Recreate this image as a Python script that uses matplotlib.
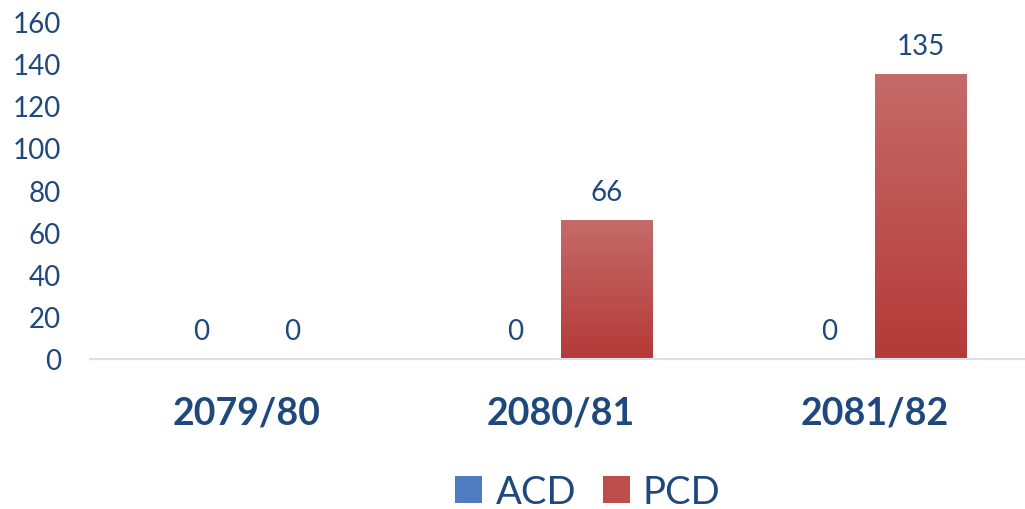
import matplotlib
matplotlib.use("Agg")
import matplotlib.pyplot as plt
import numpy as np
from matplotlib.patches import Patch
from matplotlib.colors import LinearSegmentedColormap

categories = ["2079/80", "2080/81", "2081/82"]
series_names = ["ACD", "PCD"]
acd = [0, 0, 0]
pcd = [0, 66, 135]
yticks = [0, 20, 40, 60, 80, 100, 120, 140, 160]

text_color = "#1F497D"
red_top, red_bot = "#C56B69", "#B43A38"
blue_top, blue_bot = "#6F94CD", "#3A6CB5"

plt.rcParams['font.family'] = ['Lato', 'DejaVu Sans']

fig = plt.figure(figsize=(10.25, 5.1), dpi=100)
ax = fig.add_axes([90/1025, 150/510, 942/1025, 338/510])

x = np.arange(len(categories))
w = 0.29
bars_a = ax.bar(x - w/2, acd, w, color=blue_bot, label=series_names[0])
bars_p = ax.bar(x + w/2, pcd, w, color=red_bot, label=series_names[1])

def gradient_fill(bars, top, bot):
    cmap = LinearSegmentedColormap.from_list("g", [bot, top])
    for b in bars:
        bx, by = b.get_x(), b.get_y()
        bw, bh = b.get_width(), b.get_height()
        if bh <= 0:
            continue
        grad = np.linspace(0, 1, 256).reshape(-1, 1)
        im = ax.imshow(grad, cmap=cmap, aspect='auto', origin='lower',
                       extent=[bx, bx + bw, by, by + bh], zorder=b.get_zorder() + 0.1)
        im.set_clip_path(b)

gradient_fill(bars_a, blue_top, blue_bot)
gradient_fill(bars_p, red_top, red_bot)
ax.set_xlim(-0.5, 2.5)
ax.set_ylim(0, 160)

for bars in (bars_a, bars_p):
    for b in bars:
        ax.annotate(f"{int(b.get_height())}",
                    (b.get_x() + b.get_width()/2, b.get_height()),
                    xytext=(0, 10.5), textcoords="offset points",
                    ha="center", va="bottom", fontsize=20, color=text_color)

ax.set_yticks(yticks)
ax.set_yticklabels([str(t) for t in yticks])
ax.set_xticks(x)
ax.set_xticklabels(categories, fontsize=27, fontweight="bold")
ax.tick_params(axis='y', length=0, pad=21, labelsize=20, labelcolor=text_color)
ax.tick_params(axis='x', length=0, pad=26, labelcolor=text_color)

for s in ["top", "right", "left"]:
    ax.spines[s].set_visible(False)
ax.spines["bottom"].set_color("#D6E0F0")
ax.spines["bottom"].set_linewidth(1.5)

handles = [Patch(facecolor="#4F7CC0", label=series_names[0]),
           Patch(facecolor="#BC4E4C", label=series_names[1])]
fig.legend(handles=handles, loc="center", bbox_to_anchor=(588/1025, 1 - 493/510),
           ncol=2, frameon=False, fontsize=27.5, labelcolor=text_color,
           handlelength=0.7, handleheight=0.7, handletextpad=0.35, columnspacing=0.7)

fig.savefig("out.png", dpi=100)
